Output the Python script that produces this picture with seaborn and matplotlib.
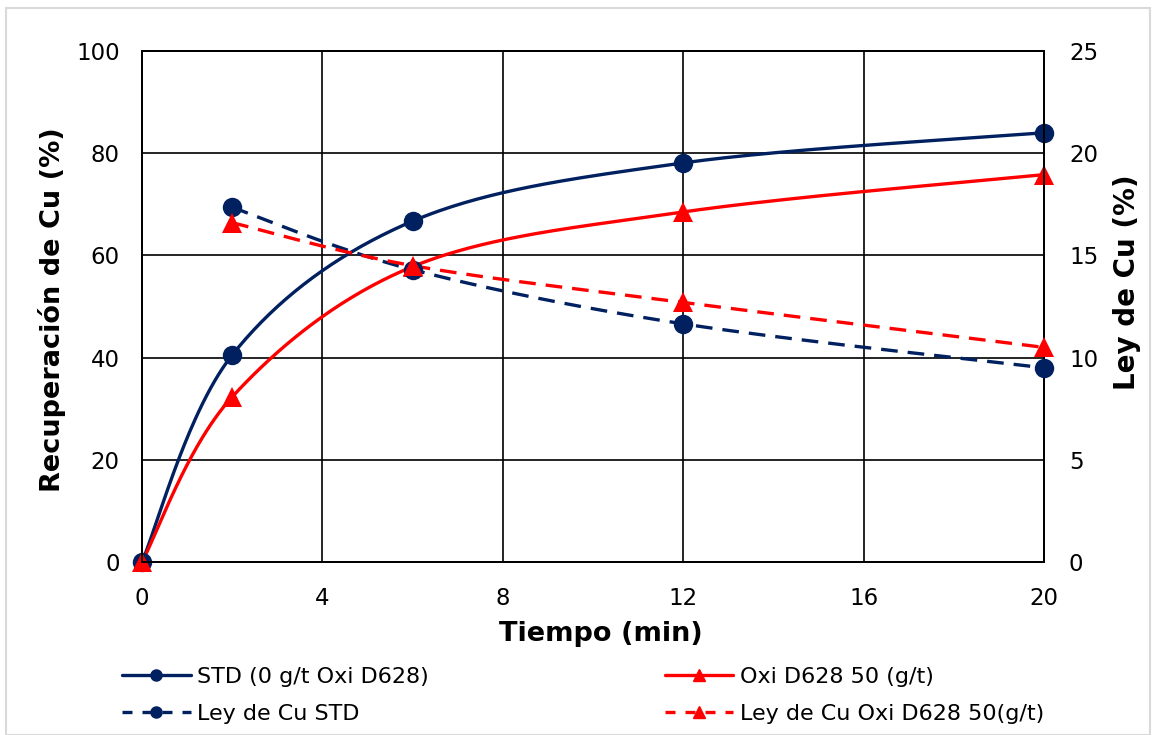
import numpy as np
import pandas as pd
import matplotlib
matplotlib.use("Agg")
import matplotlib.pyplot as plt
import seaborn as sns
from matplotlib.lines import Line2D
from matplotlib.patches import Rectangle

# ---- data ----
tiempo = [0, 2, 6, 12, 20]
rec_std = [0, 40.5, 66.7, 78.1, 84.0]
rec_oxi = [0, 32.3, 57.8, 68.5, 75.8]
ley_tiempo = [2, 6, 12, 20]
ley_std = [17.35, 14.3, 11.65, 9.5]
ley_oxi = [16.6, 14.5, 12.7, 10.5]
x_ticks = [0, 4, 8, 12, 16, 20]
y_left_ticks = [0, 20, 40, 60, 80, 100]
y_right_ticks = [0, 5, 10, 15, 20, 25]

NAVY = "#002060"
RED = "#FF0000"

sns.set_style("white")
plt.rcParams["font.family"] = ["DejaVu Sans"]
plt.rcParams["text.color"] = "black"
plt.rcParams["axes.labelcolor"] = "black"


def smooth(xs, ys, n=60, tension=0.5):
    xs = np.asarray(xs, float); ys = np.asarray(ys, float)
    P = np.column_stack([xs, ys])
    out = []
    for i in range(len(P) - 1):
        p0 = P[i - 1] if i > 0 else P[i]
        p1 = P[i]
        p2 = P[i + 1]
        p3 = P[i + 2] if i + 2 < len(P) else P[i + 1]
        c1 = p1 + (p2 - p0) * tension / 3
        c2 = p2 - (p3 - p1) * tension / 3
        t = np.linspace(0, 1, n)[:, None]
        seg = ((1 - t) ** 3) * p1 + 3 * ((1 - t) ** 2) * t * c1 + 3 * (1 - t) * t ** 2 * c2 + t ** 3 * p2
        out.append(seg if i == 0 else seg[1:])
    s = np.vstack(out)
    return s[:, 0], s[:, 1]


fig = plt.figure(figsize=(11.56, 7.35), dpi=100)
ax = fig.add_axes([0.1228, 0.2354, 0.7803, 0.6952])
ax2 = ax.twinx()

lw = 2.4
ms = 14
dash = (0, (5, 3))

df_std = pd.DataFrame({"t": tiempo, "v": rec_std})
df_oxi = pd.DataFrame({"t": tiempo, "v": rec_oxi})
df_lstd = pd.DataFrame({"t": ley_tiempo, "v": ley_std})
df_loxi = pd.DataFrame({"t": ley_tiempo, "v": ley_oxi})

# smooth recovery curves
sx, sy = smooth(tiempo, rec_std)
ax.plot(sx, sy, color=NAVY, lw=lw, zorder=4, clip_on=False)
ox, oy = smooth(tiempo, rec_oxi)
ax.plot(ox, oy, color=RED, lw=lw, zorder=4, clip_on=False)
sns.lineplot(data=df_std, x="t", y="v", ax=ax, color=NAVY, marker="o", markersize=ms,
             linestyle="none", markeredgewidth=0, zorder=5, clip_on=False)
sns.lineplot(data=df_oxi, x="t", y="v", ax=ax, color=RED, marker="^", markersize=ms,
             linestyle="none", markeredgewidth=0, zorder=6, clip_on=False)

# ley curves on right axis
lx, ly = smooth(ley_tiempo, ley_std)
ax2.plot(lx, ly, color=NAVY, lw=lw, ls=dash, zorder=4)
lx2, ly2 = smooth(ley_tiempo, ley_oxi)
ax2.plot(lx2, ly2, color=RED, lw=lw, ls=dash, zorder=4)
sns.lineplot(data=df_lstd, x="t", y="v", ax=ax2, color=NAVY, marker="o", markersize=ms,
             linestyle="none", markeredgewidth=0, zorder=5, clip_on=False)
sns.lineplot(data=df_loxi, x="t", y="v", ax=ax2, color=RED, marker="^", markersize=ms,
             linestyle="none", markeredgewidth=0, zorder=6, clip_on=False)

ax.set_xlim(0, 20)
ax.set_ylim(0, 100)
ax2.set_ylim(0, 25)
ax.set_xticks(x_ticks)
ax.set_yticks(y_left_ticks)
ax2.set_yticks(y_right_ticks)
ax.grid(True, color="black", lw=1.2)
ax.set_axisbelow(True)
for a in (ax, ax2):
    for s in a.spines.values():
        s.set_color("black")
        s.set_linewidth(1.4)
    a.tick_params(axis="both", which="both", length=0, labelsize=16.5, colors="black")
ax.tick_params(axis="x", pad=18)
ax.tick_params(axis="y", pad=16)
ax2.tick_params(axis="y", pad=18)

ax.set_xlabel("Tiempo (min)", fontsize=19.5, fontweight="bold", color="black")
ax.set_ylabel("Recuperación de Cu (%)", fontsize=19.5, fontweight="bold", color="black")
ax2.set_ylabel("Ley de Cu (%)", fontsize=20, fontweight="bold", color="black")
ax.xaxis.set_label_coords(0.509, -0.115)
ax.yaxis.set_label_coords(-0.084, 0.493)
ax2.yaxis.set_label_coords(1.076, 0.548)

handles = [
    Line2D([], [], color=NAVY, lw=lw, marker="o", markersize=8),
    Line2D([], [], color=NAVY, lw=lw, ls=(0, (3, 3)), marker="o", markersize=8),
    Line2D([], [], color=RED, lw=lw, marker="^", markersize=8),
    Line2D([], [], color=RED, lw=lw, ls=(0, (3, 3)), marker="^", markersize=8),
]
labels = ["STD (0 g/t Oxi D628)", "Ley de Cu STD", "Oxi D628 50 (g/t)", "Ley de Cu Oxi D628 50(g/t)"]
leg = fig.legend(handles, labels, ncol=2, loc="lower left", bbox_to_anchor=(0.088, -0.012),
                 frameon=False, fontsize=16, handlelength=3.1, handletextpad=0.3,
                 columnspacing=10.6, labelspacing=0.75)
for t in leg.get_texts():
    t.set_color("black")

fig.patches.append(Rectangle((0.005, 0.0), 0.99, 0.989, transform=fig.transFigure,
                             fill=False, edgecolor="#d9d9d9", lw=1.5))

fig.savefig("out.png", dpi=100)
